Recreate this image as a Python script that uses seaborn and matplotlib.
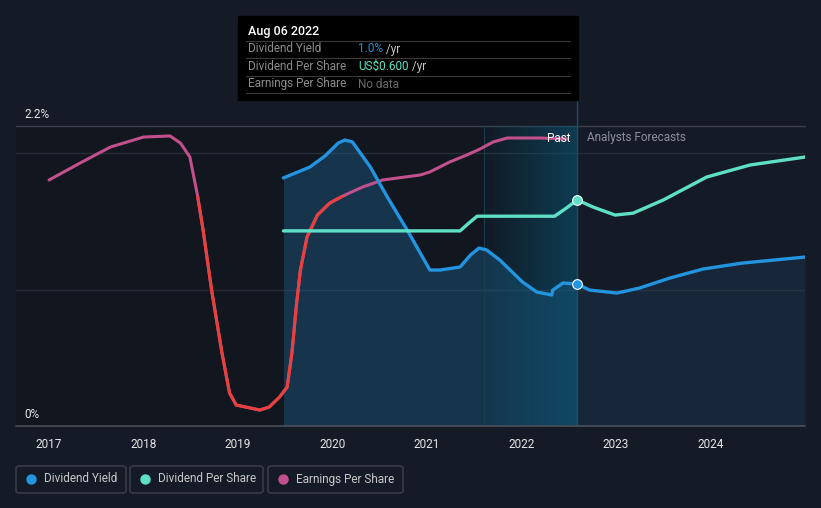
import numpy as np
import pandas as pd
import seaborn as sns
import matplotlib
matplotlib.use("Agg")
import matplotlib.pyplot as plt
from matplotlib.patches import Rectangle, FancyBboxPatch
from matplotlib.lines import Line2D

sns.set_style("dark")
plt.rcParams['font.family'] = ['Roboto', 'DejaVu Sans']

# dividend yield (%), past and analyst forecast
dy_past_years = [2019.48, 2019.76, 2019.92, 2020.06, 2020.13, 2020.21, 2020.40, 2020.58, 2020.79,
                 2021.03, 2021.14, 2021.35, 2021.46, 2021.55, 2021.63, 2021.77, 2022.01, 2022.16,
                 2022.32, 2022.33, 2022.44, 2022.59]
dy_past = [1.819, 1.899, 1.980, 2.075, 2.097, 2.083, 1.899, 1.679, 1.437,
           1.144, 1.144, 1.166, 1.254, 1.305, 1.291, 1.217, 1.056, 0.983,
           0.961, 0.997, 1.049, 1.041]
dy_fc_years = [2022.59, 2022.72, 2023.01, 2023.25, 2023.57, 2023.92, 2024.34, 2025.0]
dy_fc = [1.041, 0.997, 0.975, 1.012, 1.085, 1.151, 1.195, 1.239]

# dividend per share (US$)
dps_years = [2019.48, 2021.35, 2021.43, 2021.53, 2022.35, 2022.46, 2022.59,
             2022.76, 2022.99, 2023.18, 2023.50, 2023.96, 2024.42, 2025.0]
dps = [0.518, 0.518, 0.536, 0.557, 0.557, 0.576, 0.600,
       0.581, 0.560, 0.565, 0.600, 0.661, 0.693, 0.714]

# earnings per share (shown on the chart's own relative scale)
eps_years = [2017.0, 2017.33, 2017.65, 2018.0, 2018.28, 2018.39, 2018.49, 2018.57, 2018.63,
             2018.72, 2018.83, 2018.91, 2018.98, 2019.23, 2019.33, 2019.44, 2019.52, 2019.57,
             2019.62, 2019.66, 2019.73, 2019.84, 2019.97, 2020.11, 2020.32, 2020.53, 2020.93,
             2021.03, 2021.24, 2021.42, 2021.56, 2021.70, 2021.85, 2022.20, 2022.48]
eps = [1.804, 1.929, 2.046, 2.119, 2.127, 2.075, 1.973, 1.694, 1.437,
       0.997, 0.535, 0.242, 0.154, 0.117, 0.139, 0.213, 0.286, 0.535,
       0.902, 1.144, 1.386, 1.547, 1.635, 1.687, 1.753, 1.804, 1.841,
       1.863, 1.936, 1.987, 2.031, 2.083, 2.112, 2.112, 2.105]
eps_red_below = 1.69

year_ticks = [2017, 2018, 2019, 2020, 2021, 2022, 2023, 2024]
now = 2022.59
band_start = 2021.6

BG = '#151b26'
BLUE = '#2394df'
TEAL = '#5de0c6'
PINK = '#c2508c'
RED = '#e8403d'

fig = plt.figure(figsize=(8.21, 5.08), dpi=100, facecolor=BG)
ax = fig.add_axes([16 / 821, 82 / 508, 789 / 821, 300 / 508])
ax.set_facecolor(BG)
ax.set_xlim(2016.65, 2025.0)
ax.set_ylim(0, 2.2)
for s in ax.spines.values():
    s.set_visible(False)
ax.grid(False)

# past region darker
ax.axvspan(2016.65, now, color='#0c1016', alpha=0.4, lw=0, zorder=0)

# grid lines
for g in [1.0, 2.0]:
    ax.axhline(g, color='#272d38', lw=1, zorder=0.5)
ax.axhline(2.2, color='#3b404a', lw=1, zorder=0.5, clip_on=False)
ax.axhline(0, color='#4a4f58', lw=1.2, zorder=4, clip_on=False)

# area under dividend yield
ax.fill_between(dy_past_years, dy_past, 0, color='#1e5a84', alpha=0.45, lw=0, zorder=1)
ax.fill_between(dy_fc_years, dy_fc, 0, color='#1e4a6e', alpha=0.25, lw=0, zorder=1)

# last-year highlight band with gradient
grad = np.zeros((1, 100, 4))
grad[..., 0] = 0.04
grad[..., 1] = 0.34
grad[..., 2] = 0.46
grad[..., 3] = np.linspace(0.08, 0.6, 100)
ax.imshow(grad, extent=[band_start, now, 0, 2.2], aspect='auto', zorder=1.5, interpolation='bilinear')
ax.axvline(band_start, color='#1d3d4c', lw=0.8, zorder=1.6)
ax.add_line(Line2D([now, now], [0, 1.087], transform=ax.get_xaxis_transform(),
                   color='#1f4d60', lw=1, clip_on=False, zorder=1.6))

# EPS line, pink with red where low
sns.lineplot(x=eps_years, y=eps, ax=ax, color=PINK, lw=2.2, zorder=3)
sns.lineplot(x=eps_years, y=eps, ax=ax, color=RED, lw=2.2, zorder=3.1)
ax.lines[-1].set_clip_path(Rectangle((2016.0, -1), 10, eps_red_below + 1, transform=ax.transData))

# dividend yield line
sns.lineplot(x=dy_past_years + dy_fc_years[1:], y=dy_past + dy_fc[1:], ax=ax, color=BLUE, lw=2.4, zorder=3.5)
ax.plot([now], [dy_past[-1]], 'o', ms=7, color=BLUE, mec='white', mew=0.8, zorder=6)

# dividend per share on hidden twin axis
ax2 = ax.twinx()
ax2.set_ylim(0, 0.6 * 300 / 226)
ax2.set_xlim(ax.get_xlim())
ax2.axis('off')
sns.lineplot(x=dps_years, y=dps, ax=ax2, color=TEAL, lw=2.4, zorder=3)
ax2.plot([now], [0.6], 'o', ms=7, color=TEAL, mec='white', mew=0.8, zorder=6)

# axes labels
ax.set_xticks(year_ticks)
ax.set_xticklabels([str(y) for y in year_ticks], color='#e6e6e6', fontsize=8.5)
ax.tick_params(axis='x', length=4, color='#4a4f58', pad=5)
ax.set_yticks([])
ax.set_xlabel('')
ax.set_ylabel('')
fig.text(24 / 821, 1 - 114 / 508, '2.2%', color='#e6e6e6', fontsize=8.5, va='center', ha='left')
fig.text(24 / 821, 1 - 414 / 508, '0%', color='#e6e6e6', fontsize=8.5, va='center', ha='left')

fig.text(570 / 821, 1 - 138 / 508, 'Past', color='white', fontsize=8.5, va='center', ha='right')
fig.text(587 / 821, 1 - 138 / 508, 'Analysts Forecasts', color='#8a8f99', fontsize=8.5, va='center', ha='left')

# tooltip
fig.patches.append(Rectangle((238 / 821, 1 - 100 / 508), 340 / 821, 84 / 508,
                             transform=fig.transFigure, color='black', zorder=10))
fig.text(248 / 821, 1 - 31 / 508, 'Aug 06 2022', color='white', fontsize=9, fontweight='medium',
         va='center', zorder=11)
for yy in [41, 58, 76, 93]:
    fig.add_artist(Line2D([246 / 821, 570 / 821], [1 - yy / 508, 1 - yy / 508],
                          color='#3a3a3a', lw=0.8, zorder=11))
rows = [('Dividend Yield', '1.0%', BLUE, ' /yr'),
        ('Dividend Per Share', 'US$0.600', TEAL, ' /yr'),
        ('Earnings Per Share', 'No data', '#6a6a6a', '')]
for i, (lab, val, col, suf) in enumerate(rows):
    yy = 1 - (49 + i * 17.5) / 508
    fig.text(248 / 821, yy, lab, color='#8c8c8c', fontsize=8.5, va='center', zorder=11)
    t = fig.text(358 / 821, yy, val, color=col, fontsize=8.5, va='center', zorder=11)
    if suf:
        fig.canvas.draw()
        bb = t.get_window_extent()
        fig.text(bb.x1 / 821, yy, suf, color='#c8c8c8', fontsize=8.5, va='center', zorder=11)

# legend boxes
legend = [('Dividend Yield', BLUE, 16, 126), ('Dividend Per Share', TEAL, 130, 263),
          ('Earnings Per Share', PINK, 268, 403)]
for lab, col, x0, x1 in legend:
    fig.patches.append(FancyBboxPatch((x0 / 821, 1 - 493 / 508), (x1 - x0) / 821, 27 / 508,
                                      boxstyle='round,pad=0,rounding_size=0.004',
                                      transform=fig.transFigure, fc='none', ec='#3c414b', lw=1))
    fig.add_artist(Line2D([(x0 + 15) / 821], [1 - 479 / 508], marker='o', ms=6.5, color=col, lw=0))
    fig.text((x0 + 28) / 821, 1 - 479 / 508, lab, color='#c8c8c8', fontsize=8.5, va='center')

fig.savefig('out.png', dpi=100, facecolor=BG)
